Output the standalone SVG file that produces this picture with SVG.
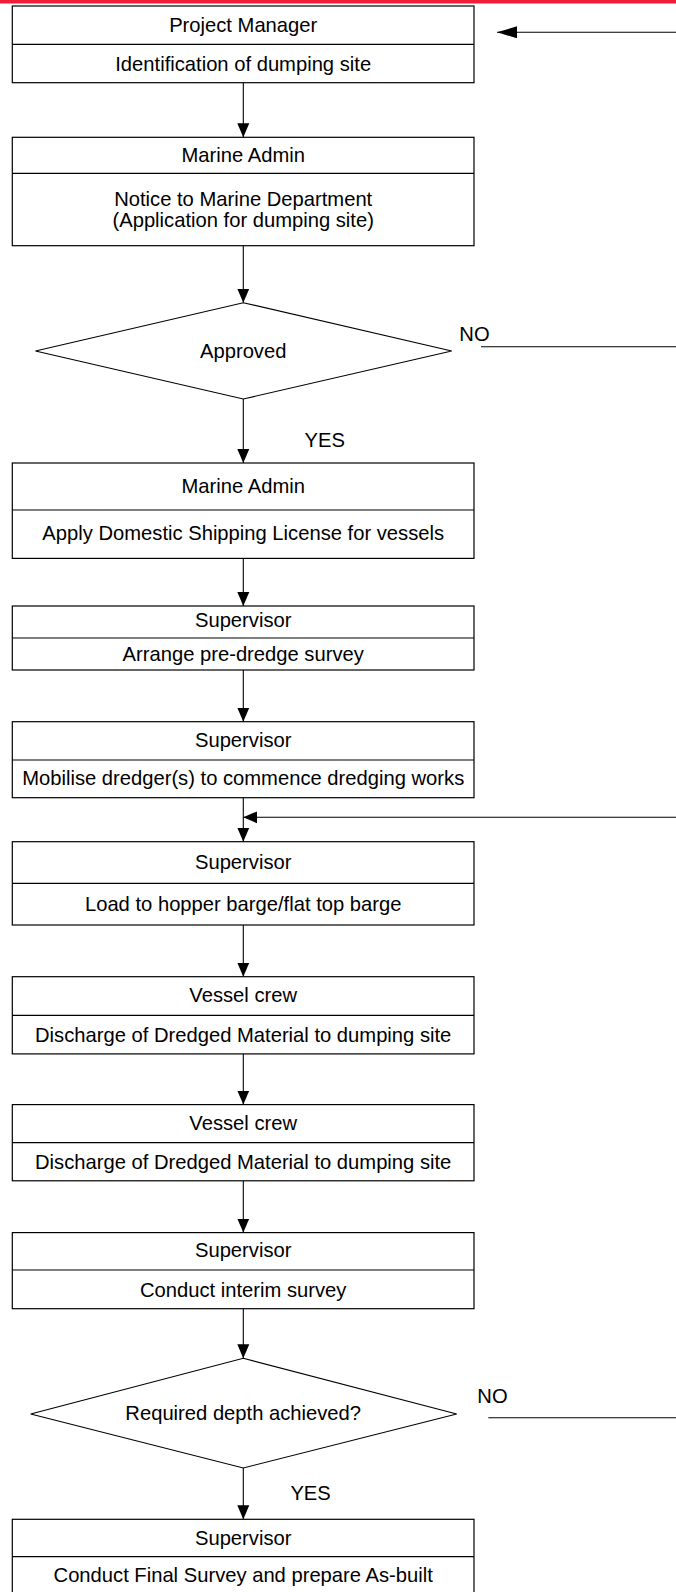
<svg xmlns="http://www.w3.org/2000/svg" width="676" height="1592" viewBox="0 0 676 1592">
<style>
.box{fill:#fff;stroke:#000;stroke-width:1.2}
.div{stroke:#000;stroke-width:1.2}
.dia{fill:#fff;stroke:#000;stroke-width:1.1}
.t{font-family:"Liberation Sans",Arial,sans-serif;font-size:20.2px;fill:#000;text-anchor:middle}
.l{font-family:"Liberation Sans",Arial,sans-serif;font-size:20.2px;fill:#000}
.c{stroke:#000;stroke-width:1.1;fill:none}
</style>
<defs>
<marker id="ah" markerUnits="userSpaceOnUse" markerWidth="14" markerHeight="14" viewBox="0 0 14 12" refX="14" refY="6" orient="auto">
<path d="M0,0 L14,6 L0,12 Z" fill="#000"/>
</marker>
<marker id="ahl" markerUnits="userSpaceOnUse" markerWidth="20" markerHeight="12" viewBox="0 0 20 12" refX="20" refY="6" orient="auto">
<path d="M0,0 L20,6 L0,12 Z" fill="#000"/>
</marker>
</defs>
<rect x="0" y="0" width="676" height="3.5" fill="#ef1c3a"/>

<g id="connectors">
<line class="c" x1="676" y1="32.3" x2="497" y2="32.3" marker-end="url(#ahl)"/>
<line class="c" x1="243.3" y1="82.7" x2="243.3" y2="137.3" marker-end="url(#ah)"/>
<line class="c" x1="243.3" y1="245.7" x2="243.3" y2="302.7" marker-end="url(#ah)"/>
<line class="c" x1="243.3" y1="399" x2="243.3" y2="463" marker-end="url(#ah)"/>
<line class="c" x1="481" y1="346.7" x2="676" y2="346.7"/>
<line class="c" x1="243.3" y1="558.4" x2="243.3" y2="606" marker-end="url(#ah)"/>
<line class="c" x1="243.3" y1="670" x2="243.3" y2="721.7" marker-end="url(#ah)"/>
<line class="c" x1="243.3" y1="797.7" x2="243.3" y2="841.7" marker-end="url(#ah)"/>
<line class="c" x1="676" y1="817.3" x2="243.3" y2="817.3" marker-end="url(#ah)"/>
<line class="c" x1="243.3" y1="925" x2="243.3" y2="976.7" marker-end="url(#ah)"/>
<line class="c" x1="243.3" y1="1053.9" x2="243.3" y2="1104.6" marker-end="url(#ah)"/>
<line class="c" x1="243.3" y1="1180.8" x2="243.3" y2="1232.6" marker-end="url(#ah)"/>
<line class="c" x1="243.3" y1="1308.7" x2="243.3" y2="1358.3" marker-end="url(#ah)"/>
<line class="c" x1="488.3" y1="1417.7" x2="676" y2="1417.7"/>
<line class="c" x1="243.3" y1="1468" x2="243.3" y2="1519.3" marker-end="url(#ah)"/>
<text class="l" x="459.3" y="340.7">NO</text>
<text class="l" x="304.6" y="446.8">YES</text>
<text class="l" x="477.3" y="1403.3">NO</text>
<text class="l" x="290.4" y="1499.7">YES</text>
</g>

<g id="n1">
<rect class="box" x="12.3" y="6" width="461.7" height="76.7"/>
<line class="div" x1="12.3" y1="44.4" x2="474" y2="44.4"/>
<text class="t" x="243.2" y="32.2">Project Manager</text>
<text class="t" x="243.2" y="70.7">Identification of dumping site</text>
</g>

<g id="n2">
<rect class="box" x="12.3" y="137.3" width="461.7" height="108.4"/>
<line class="div" x1="12.3" y1="173.3" x2="474" y2="173.3"/>
<text class="t" x="243.2" y="161.5">Marine Admin</text>
<text class="t" x="243.2" y="205.5">Notice to Marine Department</text>
<text class="t" x="243.2" y="226.5">(Application for dumping site)</text>
</g>

<g id="d1">
<polygon class="dia" points="243.3,302.7 451.7,351 243.3,399 35.5,351"/>
<text class="t" x="243.2" y="357.7">Approved</text>
</g>

<g id="n3">
<rect class="box" x="12.3" y="463" width="461.7" height="95.4"/>
<line class="div" x1="12.3" y1="510" x2="474" y2="510"/>
<text class="t" x="243.2" y="492.5">Marine Admin</text>
<text class="t" x="243.2" y="540.2">Apply Domestic Shipping License for vessels</text>
</g>

<g id="n4">
<rect class="box" x="12.3" y="606" width="461.7" height="64"/>
<line class="div" x1="12.3" y1="638" x2="474" y2="638"/>
<text class="t" x="243.2" y="626.5">Supervisor</text>
<text class="t" x="243.2" y="661.1">Arrange pre-dredge survey</text>
</g>

<g id="n5">
<rect class="box" x="12.3" y="721.7" width="461.7" height="76"/>
<line class="div" x1="12.3" y1="760" x2="474" y2="760"/>
<text class="t" x="243.2" y="746.9">Supervisor</text>
<text class="t" x="243.2" y="784.5">Mobilise dredger(s) to commence dredging works</text>
</g>

<g id="n6">
<rect class="box" x="12.3" y="841.7" width="461.7" height="83.3"/>
<line class="div" x1="12.3" y1="883.3" x2="474" y2="883.3"/>
<text class="t" x="243.2" y="869.2">Supervisor</text>
<text class="t" x="243.2" y="910.8">Load to hopper barge/flat top barge</text>
</g>

<g id="n7">
<rect class="box" x="12.3" y="976.7" width="461.7" height="77.2"/>
<line class="div" x1="12.3" y1="1015.3" x2="474" y2="1015.3"/>
<text class="t" x="243.2" y="1002.2">Vessel crew</text>
<text class="t" x="243.2" y="1041.8">Discharge of Dredged Material to dumping site</text>
</g>

<g id="n8">
<rect class="box" x="12.3" y="1104.6" width="461.7" height="76.2"/>
<line class="div" x1="12.3" y1="1142.7" x2="474" y2="1142.7"/>
<text class="t" x="243.2" y="1130.2">Vessel crew</text>
<text class="t" x="243.2" y="1168.7">Discharge of Dredged Material to dumping site</text>
</g>

<g id="n9">
<rect class="box" x="12.3" y="1232.6" width="461.7" height="76.1"/>
<line class="div" x1="12.3" y1="1270" x2="474" y2="1270"/>
<text class="t" x="243.2" y="1257">Supervisor</text>
<text class="t" x="243.2" y="1296.6">Conduct interim survey</text>
</g>

<g id="d2">
<polygon class="dia" points="243.3,1358.3 456.7,1414 243.3,1468 30.7,1414"/>
<text class="t" x="243.2" y="1420.2">Required depth achieved?</text>
</g>

<g id="n10">
<rect class="box" x="12.3" y="1519.3" width="461.7" height="90"/>
<line class="div" x1="12.3" y1="1556.7" x2="474" y2="1556.7"/>
<text class="t" x="243.2" y="1545.2">Supervisor</text>
<text class="t" x="243.2" y="1582.2">Conduct Final Survey and prepare As-built</text>
</g>
</svg>
